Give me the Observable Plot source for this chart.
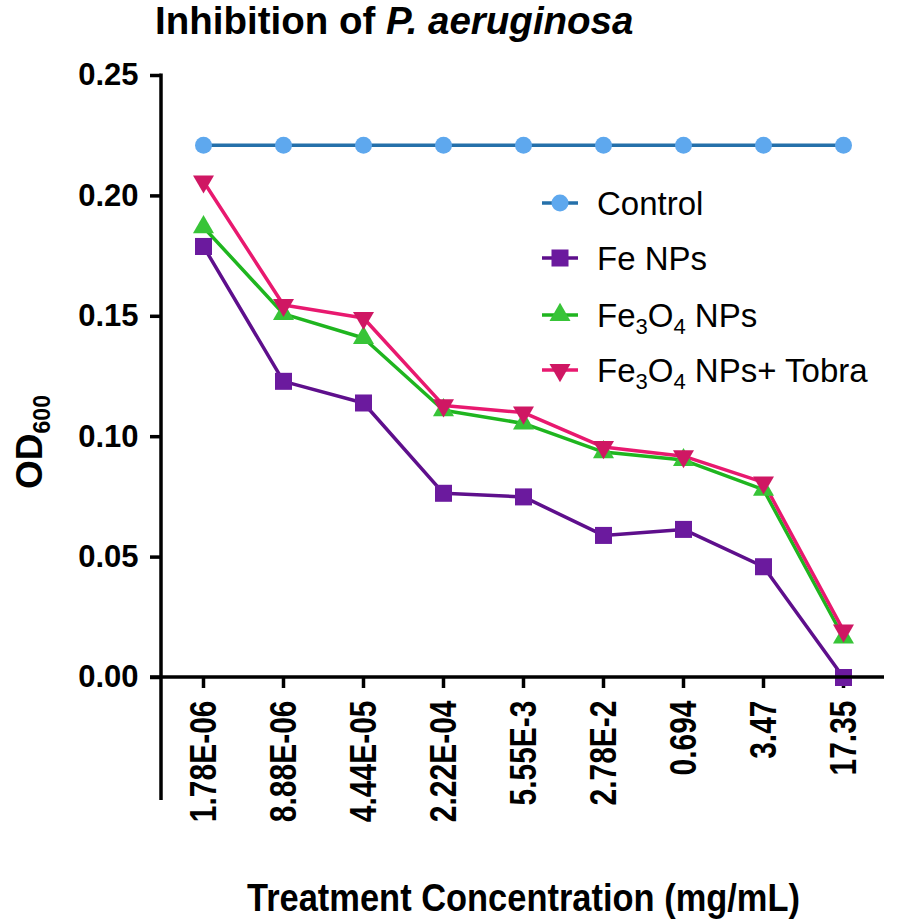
<!DOCTYPE html>
<html>
<head>
<meta charset="utf-8">
<script src="https://cdn.jsdelivr.net/npm/d3@7"></script>
<script src="https://cdn.jsdelivr.net/npm/@observablehq/plot@0.6"></script>
<style>
  html, body { margin: 0; padding: 0; background: #fff; }
  #title { height: 44px; line-height: 42px; padding-left: 155px; font-family: "Liberation Sans", Arial, sans-serif; font-weight: bold; font-size: 38.5px; color: #000; white-space: nowrap; overflow: visible; }
  #chart svg { display: block; }
</style>
</head>
<body>
<div id="title">Inhibition of <i>P. aeruginosa</i></div>
<div id="chart"></div>
<script>
// ---- data ----
const categories = ["1.78E-06", "8.88E-06", "4.44E-05", "2.22E-04", "5.55E-3", "2.78E-2", "0.694", "3.47", "17.35"];
const controlValues = [0.221, 0.221, 0.221, 0.221, 0.221, 0.221, 0.221, 0.221, 0.221];
const feValues = [0.179, 0.123, 0.114, 0.0765, 0.075, 0.059, 0.0615, 0.046, 0.0];
const fe3o4Values = [0.187, 0.151, 0.141, 0.111, 0.1055, 0.0936, 0.0903, 0.078, 0.0166];
const tobraValues = [0.206, 0.1547, 0.1493, 0.113, 0.110, 0.0957, 0.0919, 0.081, 0.0195];
const yTicks = [0, 0.05, 0.10, 0.15, 0.20, 0.25];
const seriesNames = ["Control", "Fe NPs", "Fe3O4 NPs", "Fe3O4 NPs+ Tobra"];

// ---- styles ----
const triangleDown = {
  draw(context, size) {
    const y = -Math.sqrt(size / (3 * Math.sqrt(3)));
    context.moveTo(0, -2 * y);
    context.lineTo(-Math.sqrt(3) * y, y);
    context.lineTo(Math.sqrt(3) * y, y);
    context.closePath();
  }
};
const seriesStyle = [
  {line: "#2570aa", fill: "#5ea8ee", symbol: "circle", r: 8.5},
  {line: "#5e0f8c", fill: "#6b1a9e", symbol: "square", r: 9.6},
  {line: "#1fb51f", fill: "#38c438", symbol: "triangle", r: 7.8},
  {line: "#e8196f", fill: "#cf1763", symbol: triangleDown, r: 7.8}
];
const seriesValues = [controlValues, feValues, fe3o4Values, tobraValues];
const rows = seriesValues.map((vals, s) => categories.map((c, i) => ({conc: c, od: vals[i], series: seriesNames[s]})));

const marks = [
  Plot.axisY({ticks: yTicks, tickFormat: d3.format(".2f"), tickSize: 11, tickPadding: 12, label: null, strokeWidth: 3.5, fontSize: 31, fontWeight: "bold"}),
  Plot.axisX({tickSize: 11, tickPadding: 12, tickRotate: -90, label: null, strokeWidth: 3.5, fontSize: 30, fontWeight: "bold"})
];
rows.forEach((data, s) => {
  const st = seriesStyle[s];
  marks.push(Plot.line(data, {x: "conc", y: "od", stroke: st.line, strokeWidth: 3.5}));
});
rows.forEach((data, s) => {
  const st = seriesStyle[s];
  marks.push(Plot.dot(data, {x: "conc", y: "od", symbol: st.symbol, r: st.r, fill: st.fill, stroke: "none"}));
});

const M = {top: 31, bottom: 244, left: 161, right: 14};
const W = 898, H = 877;
const plot = Plot.plot({
  width: W, height: H,
  marginTop: M.top, marginBottom: M.bottom, marginLeft: M.left, marginRight: M.right,
  style: {fontFamily: "'Liberation Sans', Arial, sans-serif", color: "#000", background: "#fff", overflow: "visible"},
  x: {type: "point", domain: categories, padding: 0.5},
  y: {domain: [0, 0.25]},
  marks
});
document.getElementById("chart").appendChild(plot);

// ---- axis lines, labels, legend (decoration) ----
const svg = d3.select(plot);
// widen rotated x tick labels (the reference uses a heavier face)
svg.selectAll("g[aria-label='x-axis tick label'] text").each(function() {
  const tr = this.getAttribute("transform") || "";
  this.setAttribute("transform", tr + " scale(1,1.25)");
});
const ys = plot.scale("y"), xs = plot.scale("x");
const y0 = ys.apply(0), yTop = ys.apply(0.25);
const xFirst = xs.apply(categories[0]), xLast = xs.apply(categories[categories.length - 1]);
const step = xs.apply(categories[1]) - xFirst;
// y axis line (extends below the x axis)
svg.append("line").attr("x1", M.left).attr("x2", M.left).attr("y1", yTop - 1.5).attr("y2", y0 + 123)
  .attr("stroke", "#000").attr("stroke-width", 3.5);
// x axis line
svg.append("line").attr("x1", M.left - 11).attr("x2", xLast + step / 2 + 1).attr("y1", y0).attr("y2", y0)
  .attr("stroke", "#000").attr("stroke-width", 3.5);

// y label OD600
const yl = svg.append("text").attr("transform", `translate(42,${(yTop + y0) / 2 + 66}) rotate(-90)`)
  .attr("text-anchor", "middle").attr("font-weight", "bold").attr("font-size", 37).attr("fill", "#000");
yl.append("tspan").text("OD");
yl.append("tspan").attr("font-size", 23).attr("dy", 8).text("600");

// x label
svg.append("text").attr("x", 523.5).attr("y", 867).attr("text-anchor", "middle")
  .attr("font-weight", "bold").attr("font-size", 39).attr("fill", "#000")
  .attr("textLength", 553).attr("lengthAdjust", "spacingAndGlyphs")
  .text("Treatment Concentration (mg/mL)");

// legend
const legendRowsY = [159, 214, 271, 326];
const lg = svg.append("g").attr("font-size", 33).attr("font-weight", "normal").attr("text-anchor", "start");
seriesNames.forEach((name, s) => {
  const st = seriesStyle[s];
  const yy = legendRowsY[s];
  lg.append("line").attr("x1", 542).attr("x2", 578).attr("y1", yy).attr("y2", yy)
    .attr("stroke", st.line).attr("stroke-width", 3.5);
  const sym = st.symbol === "circle" ? d3.symbolCircle : st.symbol === "square" ? d3.symbolSquare : st.symbol === "triangle" ? d3.symbolTriangle : triangleDown;
  lg.append("path").attr("transform", `translate(560,${yy})`)
    .attr("d", d3.symbol(sym, Math.PI * st.r * st.r)()).attr("fill", st.fill);
  const t = lg.append("text").attr("x", 597).attr("y", yy).attr("dy", "0.35em").attr("fill", "#000").attr("text-anchor", "start");
  if (name.startsWith("Fe3O4")) {
    t.append("tspan").text("Fe");
    t.append("tspan").attr("font-size", 22).attr("dy", 7).text("3");
    t.append("tspan").attr("dy", -7).text("O");
    t.append("tspan").attr("font-size", 22).attr("dy", 7).text("4");
    t.append("tspan").attr("dy", -7).text(name.slice(5));
  } else {
    t.text(name);
  }
});
</script>
</body>
</html>
